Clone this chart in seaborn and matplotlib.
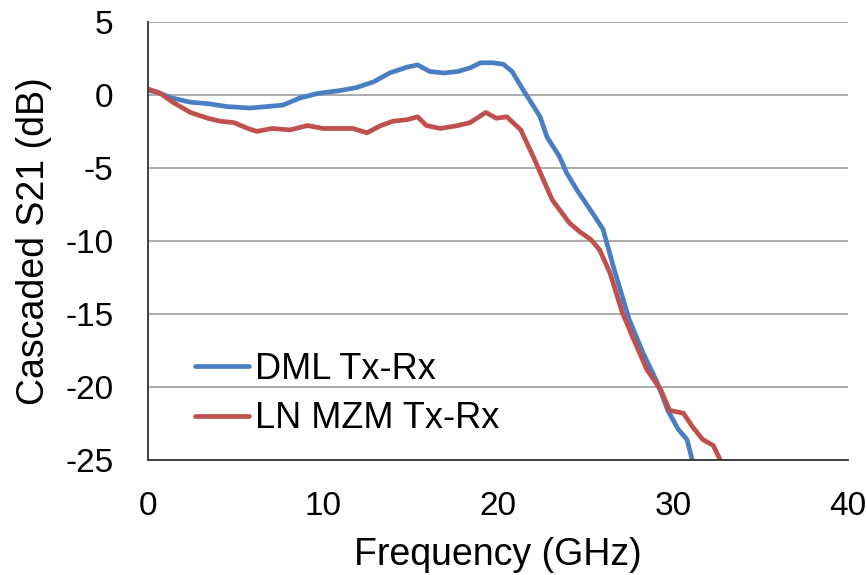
import numpy as np
import pandas as pd
import matplotlib
matplotlib.use("Agg")
import matplotlib.pyplot as plt
import seaborn as sns

# -------------------------- data --------------------------
dml_freq = [0.0, 0.5, 1.3, 2.4, 3.4, 4.5, 5.8, 6.8, 7.7, 8.7, 9.7, 11.0, 11.9, 12.9,
            13.8, 14.8, 15.4, 16.1, 16.9, 17.7, 18.4, 19.0, 19.7, 20.3, 20.8, 21.4,
            21.8, 22.4, 22.8, 23.5, 23.9, 24.5, 25.4, 26.0, 26.6, 27.5, 28.3, 29.1,
            29.7, 30.3, 30.8, 31.1]
dml_db = [0.3, 0.2, -0.2, -0.5, -0.6, -0.8, -0.9, -0.8, -0.7, -0.2, 0.1, 0.3, 0.5, 0.9,
          1.5, 1.9, 2.05, 1.6, 1.5, 1.6, 1.85, 2.2, 2.2, 2.1, 1.6, 0.4,
          -0.35, -1.5, -2.9, -4.2, -5.3, -6.5, -8.1, -9.2, -11.8, -15.4, -17.7, -19.7,
          -21.6, -22.9, -23.6, -25.0]

mzm_freq = [0.0, 0.7, 1.4, 2.4, 3.4, 4.1, 4.9, 5.7, 6.2, 7.1, 8.1, 9.1, 10.0, 11.0,
            11.7, 12.5, 13.3, 14.0, 14.8, 15.4, 15.9, 16.7, 17.7, 18.4, 19.3, 19.9,
            20.5, 21.3, 22.0, 22.4, 23.1, 24.1, 24.7, 25.3, 25.8, 26.4, 27.1, 27.7,
            28.5, 29.3, 29.8, 30.6, 31.1, 31.7, 32.3, 32.7]
mzm_db = [0.4, 0.1, -0.5, -1.2, -1.6, -1.8, -1.9, -2.3, -2.5, -2.3, -2.4, -2.1, -2.3, -2.3,
          -2.3, -2.6, -2.1, -1.8, -1.7, -1.5, -2.1, -2.3, -2.1, -1.9, -1.2, -1.6,
          -1.5, -2.4, -4.2, -5.3, -7.2, -8.8, -9.4, -9.9, -10.6, -12.2, -14.9, -16.6,
          -18.8, -20.2, -21.6, -21.8, -22.7, -23.6, -24.0, -25.0]

labels = ["DML Tx-Rx", "LN MZM Tx-Rx"]
x_ticks = [0, 10, 20, 30, 40]
y_ticks = [5, 0, -5, -10, -15, -20, -25]

df = pd.concat([
    pd.DataFrame({"Frequency": dml_freq, "S21": dml_db, "Link": labels[0]}),
    pd.DataFrame({"Frequency": mzm_freq, "S21": mzm_db, "Link": labels[1]}),
], ignore_index=True)

# -------------------------- plot --------------------------
sns.set_style("white")
plt.rcParams['font.family'] = ['Liberation Sans', 'DejaVu Sans']
plt.rcParams['axes.unicode_minus'] = False
plt.rcParams['text.color'] = 'black'
plt.rcParams['axes.labelcolor'] = 'black'
plt.rcParams['xtick.color'] = 'black'
plt.rcParams['ytick.color'] = 'black'

fig = plt.figure(figsize=(8.67, 5.75), dpi=100)
ax = fig.add_axes([0.171, 0.2, 0.807, 0.762])

sns.lineplot(data=df, x="Frequency", y="S21", hue="Link", sort=False,
             palette=["#4A7EC3", "#C0504D"], linewidth=3.4, ax=ax)

ax.set_xlim(0, 40)
ax.set_ylim(-25, 5)
ax.set_xticks(x_ticks)
ax.set_yticks(y_ticks)
ax.tick_params(axis="both", labelsize=24, direction="in", length=6,
               color="#333333")
ax.tick_params(axis="x", pad=22)
ax.tick_params(axis="y", pad=25)

ax.grid(axis="y", color="#A6A6A6", linewidth=1.3)
ax.set_axisbelow(True)
# no gridline at the top (5 dB), like the Excel original
for tick in ax.yaxis.get_major_ticks():
    if tick.get_loc() == 5:
        tick.gridline.set_visible(False)

for side in ["top", "right"]:
    ax.spines[side].set_visible(False)
for side in ["left", "bottom"]:
    ax.spines[side].set_color("#333333")
    ax.spines[side].set_linewidth(1.3)

ax.set_xlabel("Frequency (GHz)", fontsize=27)
ax.set_ylabel("Cascaded S21 (dB)", fontsize=27)
ax.xaxis.set_label_coords(0.5, -0.175)
ax.yaxis.set_label_coords(-0.137, 0.5)

ax.legend(loc="center left", bbox_to_anchor=(0.067, 0.15), frameon=False,
          fontsize=26, handlelength=1.5, handletextpad=0.15, labelspacing=0.4,
          borderpad=0, borderaxespad=0, title=None)

fig.savefig("out.png", dpi=100)
